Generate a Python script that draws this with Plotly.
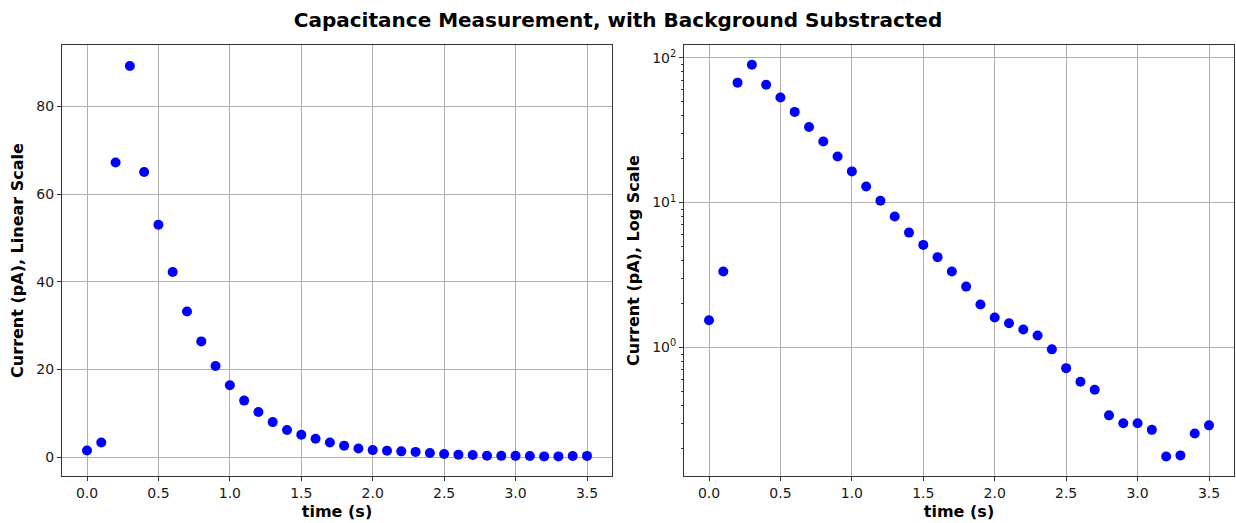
import plotly.graph_objects as go
from plotly.subplots import make_subplots

time_s = [0.0, 0.1, 0.2, 0.3, 0.4, 0.5, 0.6, 0.7, 0.8, 0.9,
          1.0, 1.1, 1.2, 1.3, 1.4, 1.5, 1.6, 1.7, 1.8, 1.9,
          2.0, 2.1, 2.2, 2.3, 2.4, 2.5, 2.6, 2.7, 2.8, 2.9,
          3.0, 3.1, 3.2, 3.3, 3.4, 3.5]
current_pA = [1.54, 3.34, 67.2, 89.2, 65.0, 53.0, 42.2, 33.2, 26.4, 20.8,
              16.4, 12.9, 10.3, 8.0, 6.2, 5.1, 4.2, 3.34, 2.63, 1.98,
              1.61, 1.47, 1.33, 1.21, 0.97, 0.72, 0.58, 0.51, 0.34, 0.30,
              0.30, 0.27, 0.177, 0.18, 0.255, 0.29]
x_ticks = [0, 0.5, 1, 1.5, 2, 2.5, 3, 3.5]
x_tick_text = ["0.0", "0.5", "1.0", "1.5", "2.0", "2.5", "3.0", "3.5"]
lin_ticks = [0, 20, 40, 60, 80]
log_ticks = [1, 10, 100]
log_tick_text = ["10<sup>0</sup>", "10<sup>1</sup>", "10<sup>2</sup>"]

title = "Capacitance Measurement, with Background Substracted"
font_family = "DejaVu Sans"

fig = make_subplots(rows=1, cols=2)
marker = dict(color="#0000ff", size=10)
fig.add_trace(go.Scatter(x=time_s, y=current_pA, mode="markers", marker=marker,
                         showlegend=False), row=1, col=1)
fig.add_trace(go.Scatter(x=time_s, y=current_pA, mode="markers", marker=marker,
                         showlegend=False), row=1, col=2)

W, H = 1236, 523
ydom = [1 - 476 / H, 1 - 45 / H]
axis_common = dict(showline=True, linecolor="#333333", linewidth=1, mirror=True,
                   showgrid=True, gridcolor="#b0b0b0", gridwidth=1,
                   ticks="outside", ticklen=4, tickcolor="#333333",
                   tickfont=dict(size=14, color="#1a1a1a", family=font_family),
                   zeroline=False, automargin=False)
title_font = dict(size=16, color="black", family=font_family)

fig.update_layout(
    width=W, height=H,
    margin=dict(l=0, r=0, t=0, b=0),
    plot_bgcolor="white", paper_bgcolor="white",
    font=dict(family=font_family, color="black"),
    title=dict(text="<b>" + title + "</b>", x=0.5, xanchor="center",
               y=1 - 20 / H, yanchor="middle", font=dict(size=20, color="black")),
    xaxis=dict(domain=[62 / W, 612 / W], range=[-0.175, 3.675],
               tickvals=x_ticks, ticktext=x_tick_text,
               title=dict(text="<b>time (s)</b>", font=title_font, standoff=6), **axis_common),
    yaxis=dict(domain=ydom, range=[-4.29, 93.97], tickvals=lin_ticks,
               title=dict(text="<b>Current (pA), Linear Scale</b>", font=title_font, standoff=8),
               **axis_common),
    xaxis2=dict(domain=[684 / W, 1234 / W], range=[-0.175, 3.675],
                tickvals=x_ticks, ticktext=x_tick_text,
                title=dict(text="<b>time (s)</b>", font=title_font, standoff=6), **axis_common),
    yaxis2=dict(domain=ydom, type="log", range=[-0.887, 2.087],
                tickvals=log_ticks, ticktext=log_tick_text,
                minor=dict(ticks="outside", ticklen=2, tickcolor="#333333", showgrid=False,
                           tickvals=[0.2, 0.3, 0.4, 0.5, 0.6, 0.7, 0.8, 0.9,
                                     2, 3, 4, 5, 6, 7, 8, 9,
                                     20, 30, 40, 50, 60, 70, 80, 90]),
                title=dict(text="<b>Current (pA), Log Scale</b>", font=title_font, standoff=8),
                **axis_common),
)

fig.write_html("out.html", config={"displayModeBar": False},
               post_script="document.body.style.margin='0px';document.body.style.overflow='hidden';")
